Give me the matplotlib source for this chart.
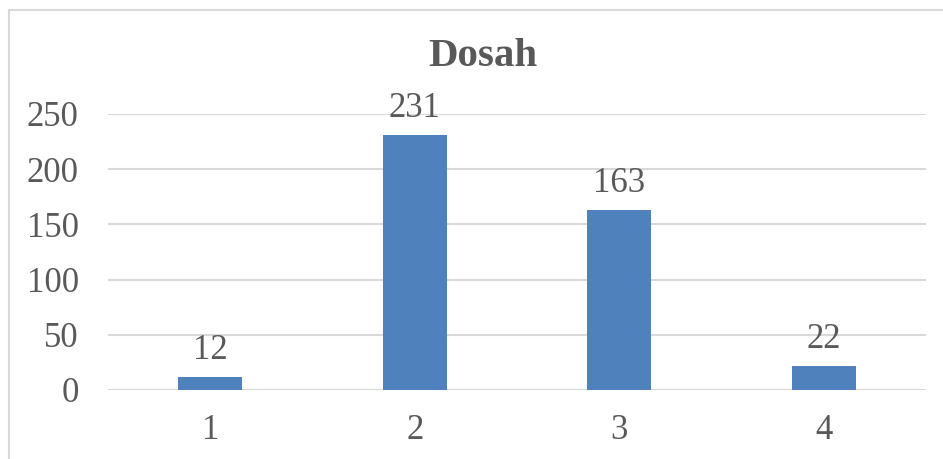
import matplotlib
matplotlib.use("Agg")
import matplotlib.pyplot as plt
from matplotlib.patches import Rectangle

categories = ["1", "2", "3", "4"]
values = [12, 231, 163, 22]
yticks = [0, 50, 100, 150, 200, 250]
title = "Dosah"

W, H = 943, 459
fig = plt.figure(figsize=(W / 100, H / 100), dpi=100)
plt.rcParams['font.family'] = ['Liberation Serif', 'DejaVu Serif']

text_col = "#595959"
grid_col = "#D9D9D9"
bar_col = "#4F81BD"

# figure border
fig.patches.append(Rectangle((9 / W, -0.1), 1.2, 1 - 10 / H + 0.1, transform=fig.transFigure,
                             fill=False, edgecolor=grid_col, linewidth=1.5, zorder=0))

left, right = 108, 926
top, bottom = 114, 390
ax = fig.add_axes([left / W, 1 - bottom / H, (right - left) / W, (bottom - top) / H])

x = list(range(1, len(categories) + 1))
ax.bar(x, values, width=0.315, color=bar_col, zorder=3)
for xi, v in zip(x, values):
    ax.annotate(str(v), (xi, v), xytext=(0, 13), textcoords="offset points",
                ha="center", va="baseline", fontsize=25, color=text_col)

ax.set_xlim(0.5, 4.5)
ax.set_ylim(0, 250)
ax.set_yticks(yticks)
ax.set_yticklabels([str(t) for t in yticks], fontsize=25, color=text_col)
ax.set_xticks(x)
ax.set_xticklabels(categories, fontsize=25, color=text_col)
ax.tick_params(axis="both", length=0)
ax.tick_params(axis="y", pad=21)
ax.tick_params(axis="x", pad=17)
ax.grid(axis="y", color=grid_col, linewidth=1.5, zorder=0)
for s in ax.spines.values():
    s.set_visible(False)

fig.text(483 / W, 1 - 56 / H, title, ha="center", va="center",
         fontsize=29.5, fontweight="bold", color=text_col)

fig.savefig("out.png", dpi=100)
